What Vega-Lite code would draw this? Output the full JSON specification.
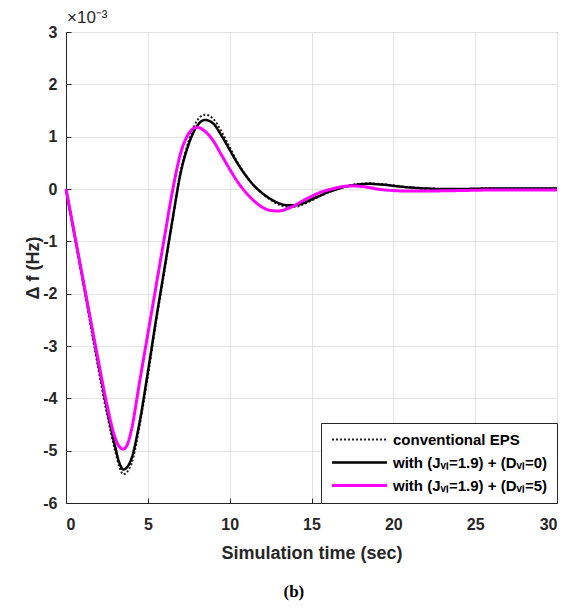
{
  "$schema": "https://vega.github.io/schema/vega-lite/v6.json",
  "width": 491,
  "height": 471,
  "padding": {"left": 24, "top": 9, "right": 20, "bottom": 5},
  "background": "white",
  "config": {
    "font": "Liberation Sans",
    "view": {"stroke": "#262626", "strokeWidth": 1},
    "axis": {
      "labelFont": "Liberation Sans",
      "labelFontWeight": "bold",
      "labelFontSize": 16,
      "labelColor": "#262626",
      "labelExpr": "'' + datum.value",
      "titleFont": "Liberation Sans",
      "titleFontWeight": "bold",
      "titleFontSize": 18,
      "titleColor": "#262626",
      "domainColor": "#262626",
      "tickColor": "#262626",
      "gridColor": "#e3e3e3",
      "gridWidth": 1
    }
  },
  "title": {
    "text": "(b)",
    "orient": "bottom",
    "frame": "bounds",
    "anchor": "middle",
    "font": "Liberation Serif",
    "fontWeight": "bold",
    "fontSize": 17,
    "color": "#000000",
    "offset": 22
  },
  "data": {
    "values": [
      {"t": 0, "df": 0, "s": "conventional EPS"},
      {"t": 0.5, "df": -0.86, "s": "conventional EPS"},
      {"t": 1, "df": -1.72, "s": "conventional EPS"},
      {"t": 1.5, "df": -2.6, "s": "conventional EPS"},
      {"t": 2, "df": -3.48, "s": "conventional EPS"},
      {"t": 2.5, "df": -4.3, "s": "conventional EPS"},
      {"t": 3, "df": -5.0, "s": "conventional EPS"},
      {"t": 3.25, "df": -5.3, "s": "conventional EPS"},
      {"t": 3.5, "df": -5.45, "s": "conventional EPS"},
      {"t": 3.75, "df": -5.4, "s": "conventional EPS"},
      {"t": 4, "df": -5.25, "s": "conventional EPS"},
      {"t": 4.5, "df": -4.52, "s": "conventional EPS"},
      {"t": 5, "df": -3.58, "s": "conventional EPS"},
      {"t": 5.5, "df": -2.55, "s": "conventional EPS"},
      {"t": 6, "df": -1.6, "s": "conventional EPS"},
      {"t": 6.5, "df": -0.62, "s": "conventional EPS"},
      {"t": 7, "df": 0.32, "s": "conventional EPS"},
      {"t": 7.5, "df": 0.92, "s": "conventional EPS"},
      {"t": 8, "df": 1.3, "s": "conventional EPS"},
      {"t": 8.5, "df": 1.42, "s": "conventional EPS"},
      {"t": 9, "df": 1.34, "s": "conventional EPS"},
      {"t": 9.5, "df": 1.1, "s": "conventional EPS"},
      {"t": 10, "df": 0.8, "s": "conventional EPS"},
      {"t": 10.5, "df": 0.5, "s": "conventional EPS"},
      {"t": 11, "df": 0.26, "s": "conventional EPS"},
      {"t": 11.5, "df": 0.06, "s": "conventional EPS"},
      {"t": 12, "df": -0.09, "s": "conventional EPS"},
      {"t": 12.5, "df": -0.21, "s": "conventional EPS"},
      {"t": 13, "df": -0.3, "s": "conventional EPS"},
      {"t": 13.5, "df": -0.34, "s": "conventional EPS"},
      {"t": 14, "df": -0.34, "s": "conventional EPS"},
      {"t": 14.5, "df": -0.29, "s": "conventional EPS"},
      {"t": 15, "df": -0.22, "s": "conventional EPS"},
      {"t": 15.5, "df": -0.14, "s": "conventional EPS"},
      {"t": 16, "df": -0.07, "s": "conventional EPS"},
      {"t": 16.5, "df": -0.01, "s": "conventional EPS"},
      {"t": 17, "df": 0.04, "s": "conventional EPS"},
      {"t": 17.5, "df": 0.08, "s": "conventional EPS"},
      {"t": 18, "df": 0.1, "s": "conventional EPS"},
      {"t": 18.5, "df": 0.11, "s": "conventional EPS"},
      {"t": 19, "df": 0.1, "s": "conventional EPS"},
      {"t": 19.5, "df": 0.09, "s": "conventional EPS"},
      {"t": 20, "df": 0.07, "s": "conventional EPS"},
      {"t": 21, "df": 0.03, "s": "conventional EPS"},
      {"t": 22, "df": 0.01, "s": "conventional EPS"},
      {"t": 23, "df": 0.0, "s": "conventional EPS"},
      {"t": 24, "df": 0.0, "s": "conventional EPS"},
      {"t": 26, "df": 0.01, "s": "conventional EPS"},
      {"t": 28, "df": 0.01, "s": "conventional EPS"},
      {"t": 30, "df": 0.01, "s": "conventional EPS"},

      {"t": 0, "df": 0, "s": "with (Jᵥₗ=1.9) + (Dᵥₗ=0)"},
      {"t": 0.5, "df": -0.84, "s": "with (Jᵥₗ=1.9) + (Dᵥₗ=0)"},
      {"t": 1, "df": -1.68, "s": "with (Jᵥₗ=1.9) + (Dᵥₗ=0)"},
      {"t": 1.5, "df": -2.52, "s": "with (Jᵥₗ=1.9) + (Dᵥₗ=0)"},
      {"t": 2, "df": -3.38, "s": "with (Jᵥₗ=1.9) + (Dᵥₗ=0)"},
      {"t": 2.5, "df": -4.2, "s": "with (Jᵥₗ=1.9) + (Dᵥₗ=0)"},
      {"t": 3, "df": -4.92, "s": "with (Jᵥₗ=1.9) + (Dᵥₗ=0)"},
      {"t": 3.25, "df": -5.22, "s": "with (Jᵥₗ=1.9) + (Dᵥₗ=0)"},
      {"t": 3.5, "df": -5.36, "s": "with (Jᵥₗ=1.9) + (Dᵥₗ=0)"},
      {"t": 3.75, "df": -5.31, "s": "with (Jᵥₗ=1.9) + (Dᵥₗ=0)"},
      {"t": 4, "df": -5.15, "s": "with (Jᵥₗ=1.9) + (Dᵥₗ=0)"},
      {"t": 4.5, "df": -4.45, "s": "with (Jᵥₗ=1.9) + (Dᵥₗ=0)"},
      {"t": 5, "df": -3.5, "s": "with (Jᵥₗ=1.9) + (Dᵥₗ=0)"},
      {"t": 5.5, "df": -2.5, "s": "with (Jᵥₗ=1.9) + (Dᵥₗ=0)"},
      {"t": 6, "df": -1.55, "s": "with (Jᵥₗ=1.9) + (Dᵥₗ=0)"},
      {"t": 6.5, "df": -0.6, "s": "with (Jᵥₗ=1.9) + (Dᵥₗ=0)"},
      {"t": 7, "df": 0.3, "s": "with (Jᵥₗ=1.9) + (Dᵥₗ=0)"},
      {"t": 7.5, "df": 0.86, "s": "with (Jᵥₗ=1.9) + (Dᵥₗ=0)"},
      {"t": 8, "df": 1.2, "s": "with (Jᵥₗ=1.9) + (Dᵥₗ=0)"},
      {"t": 8.5, "df": 1.32, "s": "with (Jᵥₗ=1.9) + (Dᵥₗ=0)"},
      {"t": 9, "df": 1.25, "s": "with (Jᵥₗ=1.9) + (Dᵥₗ=0)"},
      {"t": 9.5, "df": 1.02, "s": "with (Jᵥₗ=1.9) + (Dᵥₗ=0)"},
      {"t": 10, "df": 0.75, "s": "with (Jᵥₗ=1.9) + (Dᵥₗ=0)"},
      {"t": 10.5, "df": 0.48, "s": "with (Jᵥₗ=1.9) + (Dᵥₗ=0)"},
      {"t": 11, "df": 0.25, "s": "with (Jᵥₗ=1.9) + (Dᵥₗ=0)"},
      {"t": 11.5, "df": 0.06, "s": "with (Jᵥₗ=1.9) + (Dᵥₗ=0)"},
      {"t": 12, "df": -0.08, "s": "with (Jᵥₗ=1.9) + (Dᵥₗ=0)"},
      {"t": 12.5, "df": -0.19, "s": "with (Jᵥₗ=1.9) + (Dᵥₗ=0)"},
      {"t": 13, "df": -0.27, "s": "with (Jᵥₗ=1.9) + (Dᵥₗ=0)"},
      {"t": 13.5, "df": -0.31, "s": "with (Jᵥₗ=1.9) + (Dᵥₗ=0)"},
      {"t": 14, "df": -0.31, "s": "with (Jᵥₗ=1.9) + (Dᵥₗ=0)"},
      {"t": 14.5, "df": -0.27, "s": "with (Jᵥₗ=1.9) + (Dᵥₗ=0)"},
      {"t": 15, "df": -0.2, "s": "with (Jᵥₗ=1.9) + (Dᵥₗ=0)"},
      {"t": 15.5, "df": -0.13, "s": "with (Jᵥₗ=1.9) + (Dᵥₗ=0)"},
      {"t": 16, "df": -0.06, "s": "with (Jᵥₗ=1.9) + (Dᵥₗ=0)"},
      {"t": 16.5, "df": -0.01, "s": "with (Jᵥₗ=1.9) + (Dᵥₗ=0)"},
      {"t": 17, "df": 0.04, "s": "with (Jᵥₗ=1.9) + (Dᵥₗ=0)"},
      {"t": 17.5, "df": 0.07, "s": "with (Jᵥₗ=1.9) + (Dᵥₗ=0)"},
      {"t": 18, "df": 0.09, "s": "with (Jᵥₗ=1.9) + (Dᵥₗ=0)"},
      {"t": 18.5, "df": 0.1, "s": "with (Jᵥₗ=1.9) + (Dᵥₗ=0)"},
      {"t": 19, "df": 0.09, "s": "with (Jᵥₗ=1.9) + (Dᵥₗ=0)"},
      {"t": 19.5, "df": 0.08, "s": "with (Jᵥₗ=1.9) + (Dᵥₗ=0)"},
      {"t": 20, "df": 0.06, "s": "with (Jᵥₗ=1.9) + (Dᵥₗ=0)"},
      {"t": 21, "df": 0.03, "s": "with (Jᵥₗ=1.9) + (Dᵥₗ=0)"},
      {"t": 22, "df": 0.01, "s": "with (Jᵥₗ=1.9) + (Dᵥₗ=0)"},
      {"t": 23, "df": 0.0, "s": "with (Jᵥₗ=1.9) + (Dᵥₗ=0)"},
      {"t": 24, "df": 0.0, "s": "with (Jᵥₗ=1.9) + (Dᵥₗ=0)"},
      {"t": 26, "df": 0.01, "s": "with (Jᵥₗ=1.9) + (Dᵥₗ=0)"},
      {"t": 28, "df": 0.01, "s": "with (Jᵥₗ=1.9) + (Dᵥₗ=0)"},
      {"t": 30, "df": 0.01, "s": "with (Jᵥₗ=1.9) + (Dᵥₗ=0)"},

      {"t": 0, "df": 0, "s": "with (Jᵥₗ=1.9) + (Dᵥₗ=5)"},
      {"t": 0.5, "df": -0.83, "s": "with (Jᵥₗ=1.9) + (Dᵥₗ=5)"},
      {"t": 1, "df": -1.66, "s": "with (Jᵥₗ=1.9) + (Dᵥₗ=5)"},
      {"t": 1.5, "df": -2.5, "s": "with (Jᵥₗ=1.9) + (Dᵥₗ=5)"},
      {"t": 2, "df": -3.32, "s": "with (Jᵥₗ=1.9) + (Dᵥₗ=5)"},
      {"t": 2.5, "df": -4.12, "s": "with (Jᵥₗ=1.9) + (Dᵥₗ=5)"},
      {"t": 3, "df": -4.75, "s": "with (Jᵥₗ=1.9) + (Dᵥₗ=5)"},
      {"t": 3.25, "df": -4.92, "s": "with (Jᵥₗ=1.9) + (Dᵥₗ=5)"},
      {"t": 3.5, "df": -4.97, "s": "with (Jᵥₗ=1.9) + (Dᵥₗ=5)"},
      {"t": 3.75, "df": -4.88, "s": "with (Jᵥₗ=1.9) + (Dᵥₗ=5)"},
      {"t": 4, "df": -4.6, "s": "with (Jᵥₗ=1.9) + (Dᵥₗ=5)"},
      {"t": 4.5, "df": -3.68, "s": "with (Jᵥₗ=1.9) + (Dᵥₗ=5)"},
      {"t": 5, "df": -2.77, "s": "with (Jᵥₗ=1.9) + (Dᵥₗ=5)"},
      {"t": 5.5, "df": -1.86, "s": "with (Jᵥₗ=1.9) + (Dᵥₗ=5)"},
      {"t": 6, "df": -0.95, "s": "with (Jᵥₗ=1.9) + (Dᵥₗ=5)"},
      {"t": 6.5, "df": -0.05, "s": "with (Jᵥₗ=1.9) + (Dᵥₗ=5)"},
      {"t": 7, "df": 0.68, "s": "with (Jᵥₗ=1.9) + (Dᵥₗ=5)"},
      {"t": 7.5, "df": 1.06, "s": "with (Jᵥₗ=1.9) + (Dᵥₗ=5)"},
      {"t": 8, "df": 1.18, "s": "with (Jᵥₗ=1.9) + (Dᵥₗ=5)"},
      {"t": 8.5, "df": 1.1, "s": "with (Jᵥₗ=1.9) + (Dᵥₗ=5)"},
      {"t": 9, "df": 0.92, "s": "with (Jᵥₗ=1.9) + (Dᵥₗ=5)"},
      {"t": 9.5, "df": 0.65, "s": "with (Jᵥₗ=1.9) + (Dᵥₗ=5)"},
      {"t": 10, "df": 0.38, "s": "with (Jᵥₗ=1.9) + (Dᵥₗ=5)"},
      {"t": 10.5, "df": 0.13, "s": "with (Jᵥₗ=1.9) + (Dᵥₗ=5)"},
      {"t": 11, "df": -0.07, "s": "with (Jᵥₗ=1.9) + (Dᵥₗ=5)"},
      {"t": 11.5, "df": -0.23, "s": "with (Jᵥₗ=1.9) + (Dᵥₗ=5)"},
      {"t": 12, "df": -0.35, "s": "with (Jᵥₗ=1.9) + (Dᵥₗ=5)"},
      {"t": 12.5, "df": -0.41, "s": "with (Jᵥₗ=1.9) + (Dᵥₗ=5)"},
      {"t": 13, "df": -0.42, "s": "with (Jᵥₗ=1.9) + (Dᵥₗ=5)"},
      {"t": 13.5, "df": -0.38, "s": "with (Jᵥₗ=1.9) + (Dᵥₗ=5)"},
      {"t": 14, "df": -0.31, "s": "with (Jᵥₗ=1.9) + (Dᵥₗ=5)"},
      {"t": 14.5, "df": -0.22, "s": "with (Jᵥₗ=1.9) + (Dᵥₗ=5)"},
      {"t": 15, "df": -0.14, "s": "with (Jᵥₗ=1.9) + (Dᵥₗ=5)"},
      {"t": 15.5, "df": -0.07, "s": "with (Jᵥₗ=1.9) + (Dᵥₗ=5)"},
      {"t": 16, "df": -0.02, "s": "with (Jᵥₗ=1.9) + (Dᵥₗ=5)"},
      {"t": 16.5, "df": 0.02, "s": "with (Jᵥₗ=1.9) + (Dᵥₗ=5)"},
      {"t": 17, "df": 0.05, "s": "with (Jᵥₗ=1.9) + (Dᵥₗ=5)"},
      {"t": 17.5, "df": 0.06, "s": "with (Jᵥₗ=1.9) + (Dᵥₗ=5)"},
      {"t": 18, "df": 0.05, "s": "with (Jᵥₗ=1.9) + (Dᵥₗ=5)"},
      {"t": 18.5, "df": 0.03, "s": "with (Jᵥₗ=1.9) + (Dᵥₗ=5)"},
      {"t": 19, "df": 0.0, "s": "with (Jᵥₗ=1.9) + (Dᵥₗ=5)"},
      {"t": 20, "df": -0.03, "s": "with (Jᵥₗ=1.9) + (Dᵥₗ=5)"},
      {"t": 21, "df": -0.04, "s": "with (Jᵥₗ=1.9) + (Dᵥₗ=5)"},
      {"t": 22, "df": -0.04, "s": "with (Jᵥₗ=1.9) + (Dᵥₗ=5)"},
      {"t": 23, "df": -0.035, "s": "with (Jᵥₗ=1.9) + (Dᵥₗ=5)"},
      {"t": 24, "df": -0.03, "s": "with (Jᵥₗ=1.9) + (Dᵥₗ=5)"},
      {"t": 26, "df": -0.02, "s": "with (Jᵥₗ=1.9) + (Dᵥₗ=5)"},
      {"t": 28, "df": -0.02, "s": "with (Jᵥₗ=1.9) + (Dᵥₗ=5)"},
      {"t": 30, "df": -0.02, "s": "with (Jᵥₗ=1.9) + (Dᵥₗ=5)"}
    ]
  },
  "layer": [
    {
      "mark": {"type": "line", "interpolate": "monotone"},
      "encoding": {
        "x": {
          "field": "t", "type": "quantitative",
          "scale": {"domain": [0, 30], "nice": false},
          "axis": {"values": [0, 5, 10, 15, 20, 25, 30], "title": "Simulation time (sec)", "grid": true, "tickSize": -5, "labelPadding": 18, "titlePadding": 12}
        },
        "y": {
          "field": "df", "type": "quantitative",
          "scale": {"domain": [-6, 3], "nice": false},
          "axis": {"values": [-6, -5, -4, -3, -2, -1, 0, 1, 2, 3], "title": "Δ f (Hz)", "grid": true, "tickSize": -5, "labelPadding": 14, "titlePadding": 0}
        },
        "color": {
          "field": "s", "type": "nominal",
          "scale": {
            "domain": ["conventional EPS", "with (Jᵥₗ=1.9) + (Dᵥₗ=0)", "with (Jᵥₗ=1.9) + (Dᵥₗ=5)"],
            "range": ["#222222", "#000000", "#ff00ff"]
          },
          "legend": {
            "title": null,
            "orient": "bottom-right",
            "offset": 0,
            "fillColor": "white",
            "strokeColor": "#262626",
            "padding": 9,
            "symbolType": "M-1,0H9",
            "symbolSize": 121,
            "labelFont": "Liberation Sans",
            "labelFontWeight": "bold",
            "labelFontSize": 15,
            "labelColor": "#000000",
            "labelOffset": 48,
            "rowPadding": 7,
            "labelLimit": 300
          }
        },
        "strokeDash": {
          "field": "s", "type": "nominal",
          "scale": {
            "domain": ["conventional EPS", "with (Jᵥₗ=1.9) + (Dᵥₗ=0)", "with (Jᵥₗ=1.9) + (Dᵥₗ=5)"],
            "range": [[2, 2], [1, 0], [1, 0]]
          }
        },
        "strokeWidth": {
          "field": "s", "type": "nominal",
          "scale": {
            "domain": ["conventional EPS", "with (Jᵥₗ=1.9) + (Dᵥₗ=0)", "with (Jᵥₗ=1.9) + (Dᵥₗ=5)"],
            "range": [2, 3, 3]
          }
        }
      }
    },
    {
      "data": {"values": [{"label": "×10⁻³"}]},
      "mark": {"type": "text", "align": "left", "baseline": "bottom", "dx": 1, "dy": -5, "font": "Liberation Sans", "fontSize": 17, "color": "#262626"},
      "encoding": {
        "x": {"datum": 0, "type": "quantitative"},
        "y": {"datum": 3, "type": "quantitative"},
        "text": {"field": "label"}
      }
    }
  ]
}
